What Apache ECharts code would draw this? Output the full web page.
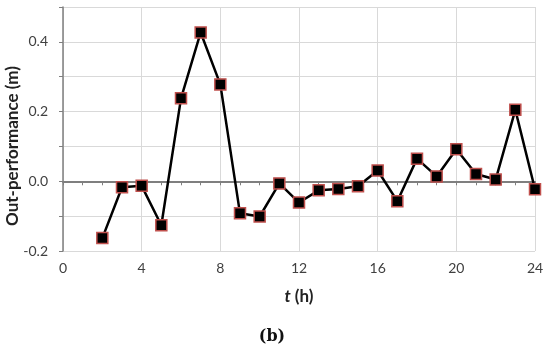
<!DOCTYPE html>
<html>
<head>
<meta charset="utf-8">
<script src="https://cdn.jsdelivr.net/npm/echarts@6/dist/echarts.min.js"></script>
<style>
  html, body { margin: 0; padding: 0; background: #fff; }
  #chart { width: 550px; height: 349px; }
</style>
</head>
<body>
<div id="chart"></div>
<script>
    // hours and out-performance values
    var hours = [2, 3, 4, 5, 6, 7, 8, 9, 10, 11, 12, 13, 14, 15, 16, 17, 18, 19, 20, 21, 22, 23, 24];
    var outPerf = [-0.163, -0.017, -0.013, -0.126, 0.238, 0.427, 0.278, -0.092, -0.101, -0.006, -0.061,
                   -0.026, -0.022, -0.014, 0.031, -0.057, 0.065, 0.014, 0.092, 0.021, 0.005, 0.205, -0.023];
    var xTicks = [0, 4, 8, 12, 16, 20, 24];
    var yTicks = [-0.2, 0.0, 0.2, 0.4];

    var points = [];
    hours.forEach(function (h, i) {
        points.push([h, outPerf[i]]);
    });

    var gridLine = '#d9d9d9';
    var axisDark = '#7f7f7f';
    var font = 'Lato';

    var myChart = echarts.init(document.getElementById('chart'));
    myChart.setOption({
        animation: false,
        grid: { left: 63, right: 15, top: 7, bottom: 98 },
        xAxis: [
            {
                // line through zero with hourly ticks
                type: 'value',
                min: 0, max: 24, interval: 1,
                axisLine: { onZero: true, lineStyle: { color: axisDark, width: 2 } },
                axisTick: { show: true, length: 4, lineStyle: { color: axisDark } },
                axisLabel: { show: false },
                splitLine: { show: false }
            },
            {
                // labels at the bottom plus vertical grid
                type: 'value',
                position: 'bottom',
                min: 0, max: 24, interval: 4,
                axisLine: { show: false, onZero: false },
                axisTick: { show: false },
                axisLabel: {
                    margin: 10, color: '#404040', fontFamily: font, fontSize: 14,
                    formatter: function (v) { return xTicks.indexOf(v) >= 0 ? String(v) : ''; }
                },
                splitLine: { show: true, lineStyle: { color: gridLine, width: 1 } },
                name: '{i|t} (h)',
                nameLocation: 'middle',
                nameGap: 37,
                nameTextStyle: {
                    fontFamily: font, fontWeight: 'bold', fontSize: 17, color: '#222',
                    rich: { i: { fontFamily: font, fontWeight: 'bold', fontStyle: 'italic', fontSize: 17, color: '#222' } }
                }
            }
        ],
        yAxis: {
            type: 'value',
            min: -0.2, max: 0.5, interval: 0.1,
            axisLine: { show: true, lineStyle: { color: axisDark, width: 1.5 } },
            axisTick: { show: true, inside: false, length: 4, lineStyle: { color: axisDark } },
            axisLabel: {
                margin: 15, color: '#404040', fontFamily: font, fontSize: 14,
                formatter: function (v) {
                    var r = Math.round(v * 10) / 10;
                    return yTicks.indexOf(r) >= 0 ? r.toFixed(1) : '';
                }
            },
            splitLine: { show: true, lineStyle: { color: gridLine, width: 1 } }
        },
        graphic: [
            {
                type: 'text',
                x: 13, y: 146,
                rotation: Math.PI / 2,
                style: {
                    text: 'Out-performance (m)',
                    font: 'bold 17px ' + font,
                    fill: '#222',
                    align: 'center',
                    verticalAlign: 'middle'
                }
            },
            {
                type: 'text',
                x: 272, y: 337,
                style: {
                    text: '(b)',
                    font: 'bold 16px "DejaVu Serif"',
                    fill: '#111',
                    align: 'center',
                    verticalAlign: 'middle'
                }
            }
        ],
        series: [
            {
                type: 'line',
                xAxisIndex: 0,
                data: points,
                symbol: 'rect',
                symbolSize: 11,
                lineStyle: { color: '#000', width: 2.5 },
                itemStyle: { color: '#000', borderColor: '#c0504d', borderWidth: 1.5 }
            }
        ]
    });
</script>
</body>
</html>
